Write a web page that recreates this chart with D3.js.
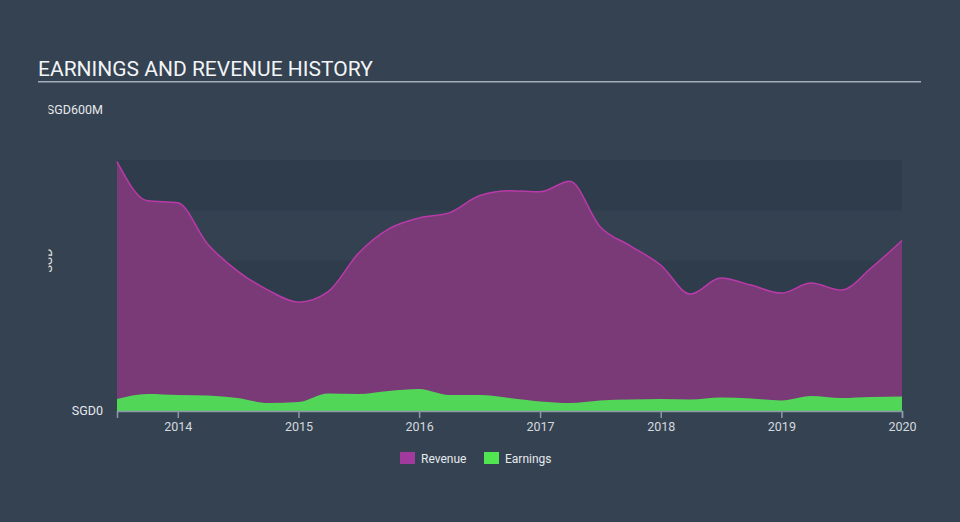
<!DOCTYPE html>
<html>
<head>
<meta charset="utf-8">
<script src="https://cdn.jsdelivr.net/npm/d3@7"></script>
<style>
  html, body { margin: 0; padding: 0; background: #344252; }
  svg { display: block; font-family: Roboto, "Open Sans", sans-serif; }
</style>
</head>
<body>
<svg id="chart" width="960" height="522"></svg>
<script>
// ---- data ----
const dates = ["2013-07-01","2013-10-01","2014-01-01","2014-04-01","2014-07-01","2014-10-01",
  "2015-01-01","2015-04-01","2015-07-01","2015-10-01","2016-01-01","2016-04-01","2016-07-01",
  "2016-10-01","2017-01-01","2017-04-01","2017-07-01","2017-10-01","2018-01-01","2018-04-01",
  "2018-07-01","2018-10-01","2019-01-01","2019-04-01","2019-07-01","2019-10-01","2020-01-01"];
// SGD millions
const revenue = [497, 419, 415, 333, 279, 241, 217, 238, 314, 363, 385, 395, 429,
  439, 437, 458, 368, 329, 291, 233, 265, 251, 235, 255, 241, 286, 340];
const earnings = [24, 34, 32, 31, 26, 16, 18, 35, 34, 40, 44, 32, 32,
  26, 19, 16, 21, 23, 24, 23, 27, 25, 21, 30, 26, 28, 29];
const yTickLabels = ["SGD0", "SGD600M"];
const yTickValues = [0, 600];
const bandValues = [0, 100, 200, 300, 400];
const legendLabels = ["Revenue", "Earnings"];

const svg = d3.select("#chart");
const parse = d3.timeParse("%Y-%m-%d");
const data = dates.map((d, i) => ({ date: parse(d), rev: revenue[i], earn: earnings[i] }));

const x = d3.scaleTime().domain(d3.extent(data, d => d.date)).range([117, 902]);
const y = d3.scaleLinear().domain([0, 600]).range([411, 110]);

// title
svg.append("text").attr("x", 38).attr("y", 76).attr("fill", "#f2f4f6")
  .attr("font-size", 21).text("EARNINGS AND REVENUE HISTORY");
svg.append("rect").attr("x", 38).attr("y", 81).attr("width", 883).attr("height", 1.5)
  .attr("fill", "#a3adb8");

// bands
svg.append("g").selectAll("rect").data(bandValues).join("rect")
  .attr("x", x.range()[0]).attr("width", x.range()[1] - x.range()[0])
  .attr("y", d => y(d + 100)).attr("height", d => y(d) - y(d + 100))
  .attr("fill", (d, i) => i % 2 === 0 ? "#2f3c4b" : "#334151");

// areas
const curve = d3.curveMonotoneX;
svg.append("path").datum(data)
  .attr("d", d3.area().x(d => x(d.date)).y0(y(0)).y1(d => y(d.rev)).curve(curve))
  .attr("fill", "#7a3a77");
svg.append("path").datum(data)
  .attr("d", d3.line().x(d => x(d.date)).y(d => y(d.rev)).curve(curve))
  .attr("fill", "none").attr("stroke", "#b93aa8").attr("stroke-width", 1.5);
svg.append("path").datum(data)
  .attr("d", d3.area().x(d => x(d.date)).y0(y(0)).y1(d => y(d.earn)).curve(curve))
  .attr("fill", "#52d658");

// x axis
const xAxis = svg.append("g").attr("transform", `translate(0,${y(0)})`)
  .call(d3.axisBottom(x).ticks(d3.timeYear.every(1)).tickFormat(d3.timeFormat("%Y")).tickSizeOuter(0).tickSize(7).tickPadding(4));
xAxis.select(".domain").attr("stroke", "#8c98a6").attr("stroke-width", 1.5);
xAxis.selectAll(".tick line").attr("stroke", "#8c98a6").attr("stroke-width", 1.5);
xAxis.selectAll(".tick text").attr("fill", "#d4d9de").attr("font-size", 12.5).attr("font-family", "Roboto, sans-serif");

// y labels (clipped on the left)
svg.append("clipPath").attr("id", "yclip").append("rect")
  .attr("x", 48.5).attr("y", 0).attr("width", 100).attr("height", 522);
const yg = svg.append("g").attr("clip-path", "url(#yclip)");
yg.selectAll("text.ylab").data(yTickValues).join("text").attr("class", "ylab")
  .attr("x", 103).attr("y", d => y(d)).attr("dy", "0.35em")
  .attr("text-anchor", "end").attr("fill", "#e6e9ec").attr("font-size", 12.5)
  .text((d, i) => yTickLabels[i]);
yg.append("text").attr("transform", `translate(52,${(y(0) + y(600)) / 2}) rotate(-90)`)
  .attr("text-anchor", "middle").attr("fill", "#e6e9ec").attr("font-size", 12.5)
  .text("SGD");

// legend
const colors = ["#a23a9e", "#52e552"];
const lx = [400, 484];
const lg = svg.append("g").selectAll("g").data(legendLabels).join("g")
  .attr("transform", (d, i) => `translate(${lx[i]},452)`);
lg.append("rect").attr("width", 15).attr("height", 12).attr("fill", (d, i) => colors[i]);
lg.append("text").attr("x", 21).attr("y", 10.5).attr("fill", "#e6e9ec")
  .attr("font-size", 12).text(d => d);
</script>
</body>
</html>
